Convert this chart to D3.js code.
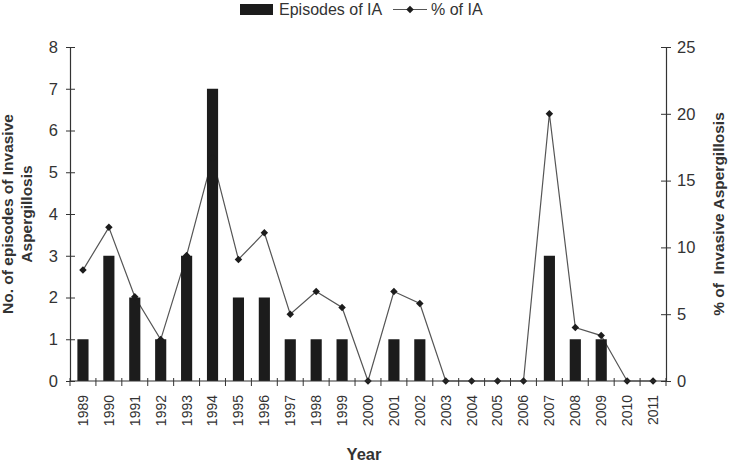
<!DOCTYPE html>
<html>
<head>
<meta charset="utf-8">
<script src="https://cdn.jsdelivr.net/npm/d3@7"></script>
<style>
  body { margin: 0; background: #fff; }
  svg { display: block; font-family: Arial, "Liberation Sans", sans-serif; }
  .tick text { fill: #333; }
</style>
</head>
<body>
<div id="chart"></div>
<script>
// chart values
var years = ['1989', '1990', '1991', '1992', '1993', '1994', '1995', '1996', '1997', '1998', '1999', '2000',
    '2001', '2002', '2003', '2004', '2005', '2006', '2007', '2008', '2009', '2010', '2011'];
var episodes = [1, 3, 2, 1, 3, 7, 2, 2, 1, 1, 1, 0, 1, 1, 0, 0, 0, 0, 3, 1, 1, 0, 0];
var percentIA = [8.3, 11.5, 6.3, 3.1, 9.4, 16.7, 9.1, 11.1, 5.0, 6.7, 5.5, 0, 6.7, 5.8, 0, 0, 0, 0, 20, 4.0, 3.4, 0, 0];
var leftTicks = [0, 1, 2, 3, 4, 5, 6, 7, 8];
var rightTicks = [0, 5, 10, 15, 20, 25];

var width = 729, height = 464;
// plot area edges (don't call these top/left: window.top is read-only)
var plotL = 70, plotR = 666, plotT = 47, plotB = 381;
var ink = '#333';

var svg = d3.select('#chart').append('svg')
    .attr('width', width)
    .attr('height', height);

var x = d3.scaleBand().domain(years).range([plotL, plotR]);
var yL = d3.scaleLinear().domain([0, 8]).range([plotB, plotT]);
var yR = d3.scaleLinear().domain([0, 25]).range([plotB, plotT]);

// line goes under the bars
var line = d3.line()
    .x(function (d, i) { return x(years[i]) + x.bandwidth() / 2; })
    .y(function (d) { return yR(d); });

svg.append('path')
    .datum(percentIA)
    .attr('d', line)
    .attr('fill', 'none')
    .attr('stroke', '#555')
    .attr('stroke-width', 1.2);

// bars
var barW = x.bandwidth() * 0.43;
svg.selectAll('.bar')
    .data(episodes)
    .enter().append('rect')
    .attr('class', 'bar')
    .attr('x', function (d, i) { return x(years[i]) + (x.bandwidth() - barW) / 2; })
    .attr('y', function (d) { return yL(d); })
    .attr('width', barW)
    .attr('height', function (d) { return plotB - yL(d); })
    .attr('fill', '#1c1c1c');

// markers (same colour as the bars so the one inside 1994 disappears)
var diamond = d3.symbol().type(d3.symbolSquare).size(28);
svg.selectAll('.pt')
    .data(percentIA)
    .enter().append('path')
    .attr('class', 'pt')
    .attr('d', diamond)
    .attr('fill', '#1c1c1c')
    .attr('transform', function (d, i) {
        return 'translate(' + (x(years[i]) + x.bandwidth() / 2) + ',' + yR(d) + ') rotate(45)';
    });

// left axis
var gL = svg.append('g')
    .attr('transform', 'translate(' + plotL + ',0)')
    .call(d3.axisLeft(yL).tickValues(leftTicks).tickSizeInner(4).tickSizeOuter(0).tickPadding(8));
gL.selectAll('.tick').append('line').attr('x2', 5).attr('stroke', ink);

// right axis
var gR = svg.append('g')
    .attr('transform', 'translate(' + plotR + ',0)')
    .call(d3.axisRight(yR).tickValues(rightTicks).tickSizeInner(5).tickSizeOuter(0).tickPadding(6));
gR.selectAll('.tick').append('line').attr('x2', -5).attr('stroke', ink);

// bottom axis, labels at band centres
var gB = svg.append('g')
    .attr('transform', 'translate(0,' + plotB + ')')
    .call(d3.axisBottom(x).tickSize(0).tickSizeOuter(0));
gB.select('.domain').remove();
gB.selectAll('.tick text')
    .attr('transform', 'rotate(-90)')
    .attr('x', -14)
    .attr('y', 0)
    .attr('dy', '0.35em')
    .style('text-anchor', 'end')
    .style('font-size', '14px');

// tick marks at the band edges
var edges = years.map(function (y) { return x(y); }).concat([plotR]);
svg.append('g').selectAll('line')
    .data(edges)
    .enter().append('line')
    .attr('x1', function (d) { return d; })
    .attr('x2', function (d) { return d; })
    .attr('y1', plotB - 3)
    .attr('y2', plotB + 5)
    .attr('stroke', ink);

svg.append('line')
    .attr('x1', plotL).attr('x2', plotR)
    .attr('y1', plotB).attr('y2', plotB)
    .attr('stroke', ink).attr('stroke-width', 1.2);

svg.selectAll('.domain').attr('stroke', ink).attr('stroke-width', 1.2);
svg.selectAll('.tick line').attr('stroke', ink);
gL.selectAll('.tick text').style('font-size', '16.5px');
gR.selectAll('.tick text').style('font-size', '16.5px');

// axis titles
var midY = (plotT + plotB) / 2;
var leftTitle = svg.append('text')
    .attr('transform', 'translate(13,' + midY + ') rotate(-90)')
    .attr('text-anchor', 'middle')
    .style('font-weight', 'bold')
    .style('font-size', '15.5px')
    .attr('fill', ink);
leftTitle.append('tspan').attr('x', 0).attr('y', 0).text('No. of episodes of Invasive');
leftTitle.append('tspan').attr('x', 0).attr('y', 19).text('Aspergillosis');

svg.append('text')
    .attr('transform', 'translate(724,' + midY + ') rotate(-90)')
    .attr('text-anchor', 'middle')
    .style('font-weight', 'bold')
    .style('font-size', '15.5px')
    .style('white-space', 'pre')
    .attr('fill', ink)
    .text('% of  Invasive Aspergillosis');

svg.append('text')
    .attr('x', 364)
    .attr('y', 460)
    .attr('text-anchor', 'middle')
    .style('font-weight', 'bold')
    .style('font-size', '16.5px')
    .attr('fill', ink)
    .text('Year');

// legend
var legend = svg.append('g');
legend.append('rect')
    .attr('x', 240).attr('y', 4)
    .attr('width', 33).attr('height', 11)
    .attr('fill', '#1c1c1c');
legend.append('text')
    .attr('x', 279).attr('y', 15)
    .style('font-size', '16px')
    .attr('fill', ink)
    .text('Episodes of IA');
legend.append('line')
    .attr('x1', 393).attr('x2', 427)
    .attr('y1', 9.5).attr('y2', 9.5)
    .attr('stroke', '#555')
    .attr('stroke-width', 1.2);
legend.append('path')
    .attr('d', diamond)
    .attr('fill', '#1c1c1c')
    .attr('transform', 'translate(410,9.5) rotate(45)');
legend.append('text')
    .attr('x', 431).attr('y', 15)
    .style('font-size', '16px')
    .attr('fill', ink)
    .text('% of IA');
</script>
</body>
</html>
